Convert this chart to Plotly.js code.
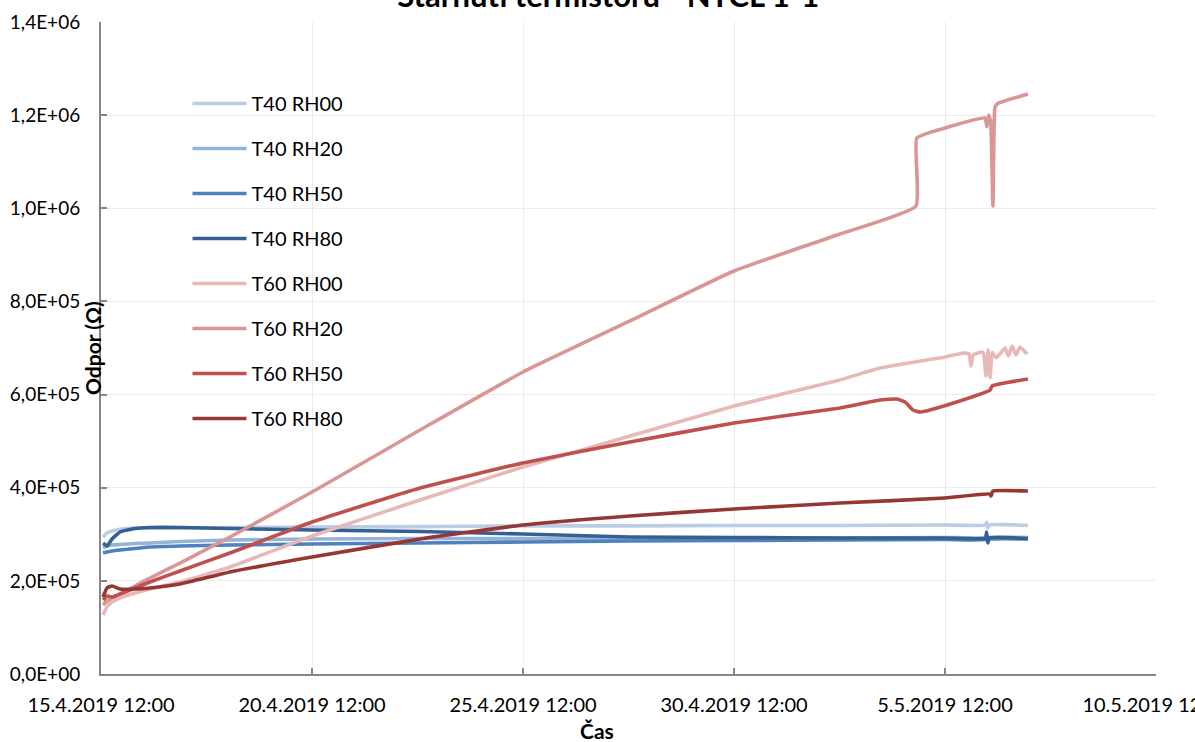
<!DOCTYPE html>
<html>
<head>
<meta charset="utf-8">
<script src="https://cdn.plot.ly/plotly-3.0.1.min.js"></script>
<style>
  html, body { margin: 0; padding: 0; background: #ffffff; }
  #chart { width: 1195px; height: 742px; }
</style>
</head>
<body>
<div id="chart"></div>
<script>
// Measurement times shared by the smooth parts of all series
const tBase = [
  "2019-04-15 13:10", "2019-04-15 15:25", "2019-04-15 18:15", "2019-04-15 22:50",
  "2019-04-16 07:20", "2019-04-16 15:50", "2019-04-17 08:55", "2019-04-18 13:20",
  "2019-04-20 12:00", "2019-04-23 01:25", "2019-04-25 12:00", "2019-04-28 00:50",
  "2019-04-30 12:00", "2019-05-03 00:15", "2019-05-05 12:00"
];

// T40 series: base times + glitch around 6.5. noon + last reading
const tT40 = tBase.concat([
  "2019-05-06 11:00", "2019-05-06 11:40", "2019-05-06 12:20", "2019-05-06 13:00",
  "2019-05-07 11:10"
]);

const T40_RH00 = [294000, 303000, 307000, 311000, 313500, 313500, 313500, 314500,
  315500, 316500, 318000, 318000, 319000, 319000, 320000,
  320000, 326000, 313500, 320000, 319000];
const T40_RH20 = [270500, 274800, 277000, 278000, 280200, 281300, 284500, 287700,
  289900, 291000, 291000, 291000, 292000, 292000, 293100,
  293100, 298500, 287700, 293100, 293100];
const T40_RH50 = [259800, 262000, 264100, 266300, 269500, 272700, 274800, 277000,
  279100, 281300, 283400, 285600, 286600, 287700, 288800,
  288800, 294000, 283400, 288800, 289900];
const T40_RH80 = [281300, 274800, 289900, 304900, 312400, 314600, 314600, 312400,
  309200, 306000, 300600, 294200, 293100, 292000, 292000,
  292000, 304900, 281300, 292000, 291000];

// T60 RH00: base times (up to 3.5.) + late readings with scatter
const tT60_RH00 = tBase.slice(0, 14).concat([
  "2019-05-03 23:00", "2019-05-05 12:00", "2019-05-05 22:25", "2019-05-06 01:40",
  "2019-05-06 02:50", "2019-05-06 04:00", "2019-05-06 09:35", "2019-05-06 11:20",
  "2019-05-06 12:30", "2019-05-06 13:40", "2019-05-06 14:50", "2019-05-06 17:05",
  "2019-05-06 22:10", "2019-05-07 00:00", "2019-05-07 02:10", "2019-05-07 04:25",
  "2019-05-07 06:40", "2019-05-07 10:40"
]);
const T60_RH00 = [126700, 143900, 154600, 163200, 173900, 182500, 197500, 229800,
  296300, 373600, 444500, 511000, 575400, 631300,
  657000, 680700, 689000, 687000, 661000, 685000, 691000, 640000,
  696000, 636000, 691000, 679000, 700000, 683000, 704000, 685000,
  702000, 687000];

// T60 RH20: base times (up to 3.5.) + jump on 4.5. and dropout on 6.5.
const tT60_RH20 = tBase.slice(0, 14).concat([
  "2019-05-04 19:30", "2019-05-04 20:00", "2019-05-05 12:00", "2019-05-06 10:45",
  "2019-05-06 11:50", "2019-05-06 12:50", "2019-05-06 14:00", "2019-05-06 15:15",
  "2019-05-06 16:20", "2019-05-06 17:30", "2019-05-07 11:10"
]);
const T60_RH20 = [148200, 156700, 163200, 171800, 189000, 206100, 238300, 294200,
  390800, 523900, 648500, 758000, 865300, 944800,
  1004900, 1150900, 1172400, 1193800, 1175000, 1200000, 1185000, 1005000,
  1215000, 1223900, 1245400];

// T60 RH50: base times (up to 3.5.) + dip on 4.5. and step on 6.5.
const tT60_RH50 = tBase.slice(0, 14).concat([
  "2019-05-03 23:00", "2019-05-04 08:40", "2019-05-04 13:15", "2019-05-04 17:50",
  "2019-05-04 21:50", "2019-05-05 03:25", "2019-05-05 13:10", "2019-05-06 13:35",
  "2019-05-06 14:50", "2019-05-07 11:10"
]);
const T60_RH50 = [158900, 167500, 165300, 171800, 184700, 197500, 221200, 259800,
  326400, 399400, 453100, 498100, 539000, 571200,
  588300, 590500, 584000, 567000, 562600, 567000, 577600, 609800,
  618400, 633400];

// T60 RH80: base times + small step on 6.5.
const tT60_RH80 = tBase.concat([
  "2019-05-06 13:35", "2019-05-06 14:10", "2019-05-06 15:15", "2019-05-07 11:10"
]);
const T60_RH80 = [165300, 184700, 189000, 182500, 182500, 184700, 193200, 219000,
  251200, 289900, 319900, 339300, 354300, 367200, 377900,
  386500, 382200, 392900, 392900];

// Axis ticks
const xTickVals = ["2019-04-15 12:00", "2019-04-20 12:00", "2019-04-25 12:00",
  "2019-04-30 12:00", "2019-05-05 12:00", "2019-05-10 12:00"];
const xTickText = ["15.4.2019 12:00", "20.4.2019 12:00", "25.4.2019 12:00",
  "30.4.2019 12:00", "5.5.2019 12:00", "10.5.2019 12:00"];
const yTickVals = [0, 200000, 400000, 600000, 800000, 1000000, 1200000, 1400000];
const yTickText = ["0,0E+00", "2,0E+05", "4,0E+05", "6,0E+05", "8,0E+05",
  "1,0E+06", "1,2E+06", "1,4E+06"];

const seriesDefs = [
  { name: "T40 RH00", x: tT40, y: T40_RH00, color: "#b9cde5" },
  { name: "T40 RH20", x: tT40, y: T40_RH20, color: "#95b3d7" },
  { name: "T40 RH50", x: tT40, y: T40_RH50, color: "#4f81bd" },
  { name: "T40 RH80", x: tT40, y: T40_RH80, color: "#366092" },
  { name: "T60 RH00", x: tT60_RH00, y: T60_RH00, color: "#e6b9b8" },
  { name: "T60 RH20", x: tT60_RH20, y: T60_RH20, color: "#d99694" },
  { name: "T60 RH50", x: tT60_RH50, y: T60_RH50, color: "#c0504d" },
  { name: "T60 RH80", x: tT60_RH80, y: T60_RH80, color: "#953735" }
];

const traces = seriesDefs.map((s, i) => ({
  type: "scatter",
  mode: "lines",
  name: s.name,
  legendgroup: "g" + i,
  x: s.x,
  y: s.y,
  line: { color: s.color, width: 3.6, shape: "spline", smoothing: 0.4 },
  hoverinfo: "x+y+name"
}));

const font = "Lato, 'Open Sans', 'DejaVu Sans', sans-serif";

const layout = {
  width: 1195,
  height: 742,
  margin: { l: 101, r: 39, t: 22, b: 68 },
  paper_bgcolor: "#ffffff",
  plot_bgcolor: "#ffffff",
  font: { family: font, color: "#000000", size: 16 },
  title: {
    text: "Stárnutí termistorů - NTCL 1-1",
    font: { family: font, size: 31, color: "#000000", weight: "bold" },
    xref: "container", x: 0.509, xanchor: "center",
    yref: "container", y: 0.991, yanchor: "bottom"
  },
  showlegend: true,
  legend: {
    x: 0.082, xanchor: "left",
    y: 0.905, yanchor: "top",
    bgcolor: "rgba(0,0,0,0)",
    font: { family: font, size: 20, color: "#000000" },
    tracegroupgap: 16,
    itemwidth: 54
  },
  xaxis: {
    type: "date",
    range: ["2019-04-15 12:00", "2019-05-10 12:00"],
    tickmode: "array",
    tickvals: xTickVals,
    ticktext: xTickText,
    ticks: "inside",
    ticklen: 6,
    tickwidth: 1.5,
    tickcolor: "#868686",
    ticklabelstandoff: 12,
    ticklabeloverflow: "allow",
    tickfont: { family: font, size: 20, color: "#000000" },
    showgrid: true,
    gridcolor: "#ececec",
    gridwidth: 1,
    showline: true,
    linecolor: "#868686",
    linewidth: 2,
    zeroline: false,
    automargin: false
  },
  yaxis: {
    range: [0, 1400000],
    tickmode: "array",
    tickvals: yTickVals,
    ticktext: yTickText,
    ticks: "inside",
    ticklen: 6,
    tickwidth: 1.5,
    tickcolor: "#868686",
    ticklabelstandoff: 15,
    tickfont: { family: font, size: 19, color: "#000000" },
    showgrid: true,
    gridcolor: "#ececec",
    gridwidth: 1,
    showline: true,
    linecolor: "#868686",
    linewidth: 2,
    zeroline: false,
    automargin: false
  },
  annotations: [
    {
      text: "<b>Čas</b>",
      xref: "paper", yref: "paper",
      x: 0.47, y: -0.087, xanchor: "center", yanchor: "middle",
      showarrow: false,
      font: { family: font, size: 21, color: "#000000" }
    },
    {
      text: "<b>Odpor (Ω)</b>",
      xref: "paper", yref: "paper",
      x: -0.0085, y: 0.5, xanchor: "center", yanchor: "middle",
      textangle: -90,
      showarrow: false,
      font: { family: font, size: 21, color: "#000000" }
    }
  ]
};

Plotly.newPlot("chart", traces, layout, { displayModeBar: false, responsive: false });
</script>
</body>
</html>
